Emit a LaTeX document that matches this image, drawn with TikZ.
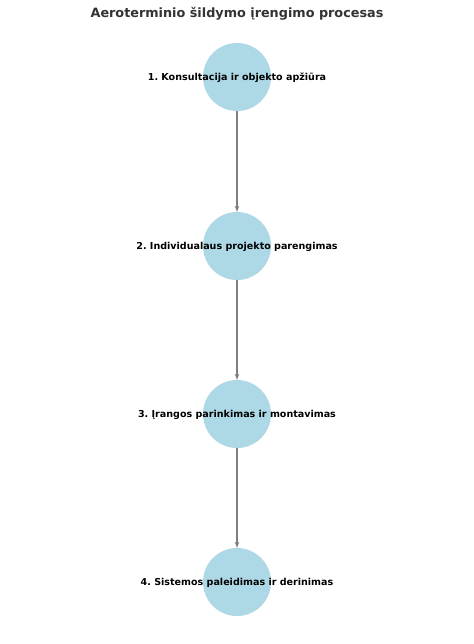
\documentclass[tikz,border=0pt]{standalone}
\usepackage{fontspec}
\setmainfont{DejaVu Sans}
\usetikzlibrary{arrows.meta}
\definecolor{nodeblue}{HTML}{ADD8E6}
\definecolor{edgegray}{HTML}{808080}
\definecolor{titlegray}{HTML}{333333}
\frenchspacing
\begin{document}
\begin{tikzpicture}[x=1bp,y=-1bp,
  stage/.style = {circle,fill=nodeblue,minimum size=68bp,inner sep=0pt},
  stagelabel/.style = {font=\fontsize{9.55bp}{11bp}\selectfont\bfseries},
  flow/.style = {draw=edgegray,line width=1.2bp,-{Stealth[length=6bp,width=4.5bp]}},]

\useasboundingbox (0,0) rectangle (474,644);

\node[font=\fontsize{12.8bp}{15bp}\selectfont\bfseries,text=titlegray] (title) at (237,14) {Aeroterminio šildymo įrengimo procesas};

\node[stage] (s1) at (237,77) {};
\node[stage] (s2) at (237,246) {};
\node[stage] (s3) at (237,414) {};
\node[stage] (s4) at (237,582) {};

\draw[flow] (s1) -- (s2);
\draw[flow] (s2) -- (s3);
\draw[flow] (s3) -- (s4);

\node[stagelabel] at (237,78) {1. Konsultacija ir objekto apžiūra};
\node[stagelabel] at (237,247) {2. Individualaus projekto parengimas};
\node[stagelabel] at (237,415) {3. Įrangos parinkimas ir montavimas};
\node[stagelabel] at (237,583) {4. Sistemos paleidimas ir derinimas};

\end{tikzpicture}
\end{document}
